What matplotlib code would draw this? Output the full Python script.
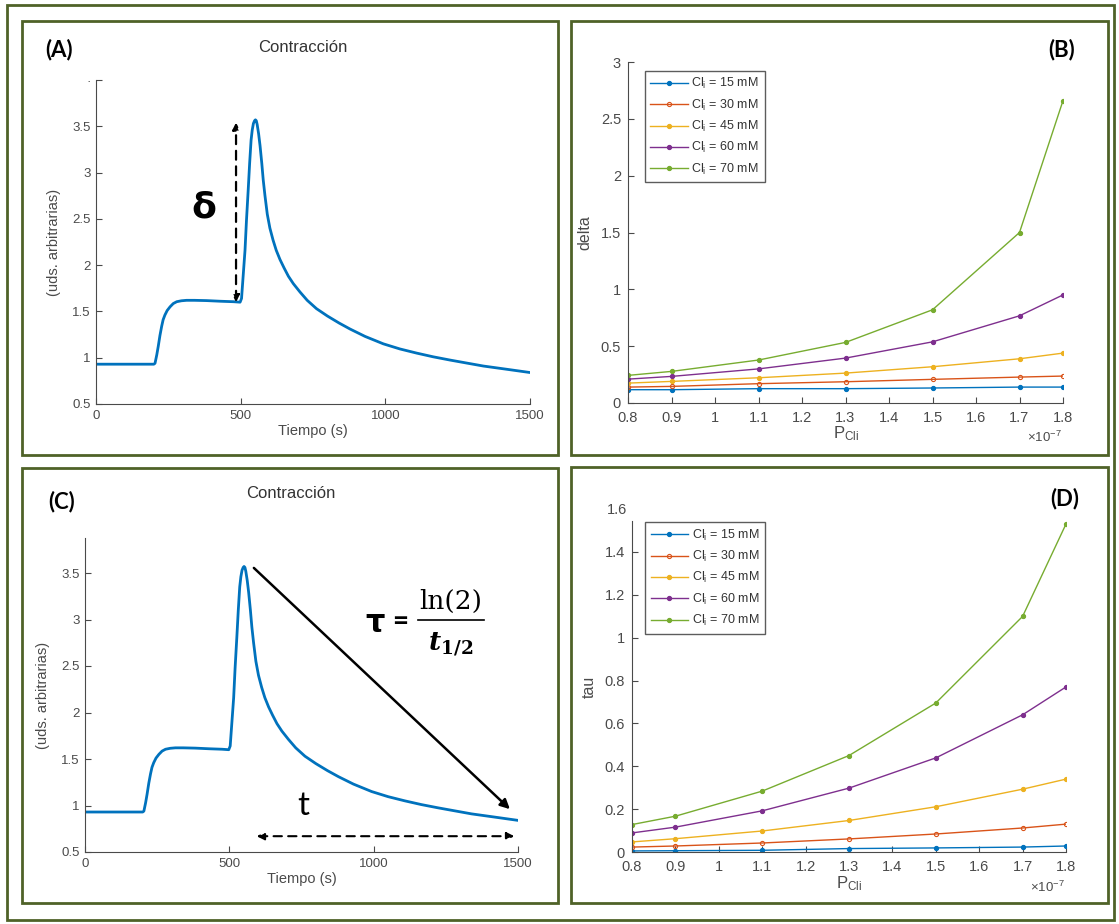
import matplotlib
matplotlib.use("Agg")
import matplotlib.pyplot as plt
from matplotlib.patches import Rectangle
from matplotlib.transforms import Bbox

# ---------------- data ----------------
tiempo = [0, 100, 200, 204, 210, 215, 221, 227, 232, 238, 246, 256, 267, 279, 295, 313, 340, 382,
          430, 475, 498, 503, 509, 515, 520, 526, 531, 536, 540, 544, 548, 551, 554, 557, 562,
          567, 573, 578, 584, 592, 601, 612, 623, 636, 650, 665, 682, 705, 730, 762, 800, 840,
          878, 930, 993, 1050, 1108, 1165, 1223, 1280, 1339, 1420, 1500]
contraccion = [0.93, 0.93, 0.93, 0.94, 1.03, 1.12, 1.24, 1.34, 1.41, 1.46, 1.51, 1.55, 1.585, 1.605,
               1.615, 1.62, 1.62, 1.617, 1.61, 1.605, 1.60, 1.64, 1.90, 2.16, 2.48, 2.81, 3.10, 3.35,
               3.46, 3.53, 3.56, 3.57, 3.56, 3.52, 3.42, 3.29, 3.10, 2.92, 2.75, 2.55, 2.40, 2.27,
               2.16, 2.06, 1.97, 1.88, 1.80, 1.71, 1.62, 1.53, 1.45, 1.375, 1.31, 1.23, 1.15, 1.095,
               1.05, 1.01, 0.975, 0.943, 0.91, 0.875, 0.84]

p_cli = [0.8e-7, 0.9e-7, 1.1e-7, 1.3e-7, 1.5e-7, 1.7e-7, 1.8e-7]
labels = ['Cl$_{\\mathrm{i}}$ = 15 mM', 'Cl$_{\\mathrm{i}}$ = 30 mM', 'Cl$_{\\mathrm{i}}$ = 45 mM',
          'Cl$_{\\mathrm{i}}$ = 60 mM', 'Cl$_{\\mathrm{i}}$ = 70 mM']

delta_15 = [0.117, 0.117, 0.126, 0.126, 0.132, 0.140, 0.140]
delta_30 = [0.140, 0.146, 0.170, 0.187, 0.208, 0.228, 0.237]
delta_45 = [0.175, 0.190, 0.222, 0.263, 0.319, 0.389, 0.439]
delta_60 = [0.210, 0.234, 0.300, 0.395, 0.538, 0.767, 0.951]
delta_70 = [0.243, 0.278, 0.378, 0.533, 0.820, 1.500, 2.660]

tau_15 = [0.005, 0.006, 0.008, 0.016, 0.019, 0.023, 0.028]
tau_30 = [0.023, 0.028, 0.042, 0.061, 0.084, 0.112, 0.130]
tau_45 = [0.047, 0.062, 0.098, 0.147, 0.211, 0.293, 0.340]
tau_60 = [0.089, 0.116, 0.192, 0.298, 0.439, 0.640, 0.770]
tau_70 = [0.128, 0.167, 0.284, 0.450, 0.695, 1.099, 1.530]

# ---------------- style ----------------
W, H = 1119, 924
plt.rcParams['font.family'] = ['Liberation Sans', 'DejaVu Sans']
plt.rcParams['mathtext.fontset'] = 'custom'
plt.rcParams['mathtext.rm'] = 'Liberation Sans'
plt.rcParams['mathtext.it'] = 'Liberation Sans:italic'
plt.rcParams['mathtext.bf'] = 'Liberation Sans:bold'
GRAY = '#4a4a4a'
BORDER = '#4f6228'
LINE_BLUE = '#0072BD'
COLORS = ['#0072BD', '#D95319', '#EDB120', '#7E2F8E', '#77AC30']

fig = plt.figure(figsize=(W / 100, H / 100), dpi=100)
fig.patch.set_facecolor('white')


def fx(x):
    return x / W


def fy(y):
    return 1 - y / H


def add_ax(x0, x1, ytop, ybot):
    return fig.add_axes([fx(x0), fy(ybot), fx(x1) - fx(x0), fy(ytop) - fy(ybot)])


def box(x0, y0, x1, y1, lw=2.0):
    fig.patches.append(Rectangle((fx(x0), fy(y1)), fx(x1) - fx(x0), fy(y0) - fy(y1),
                                 transform=fig.transFigure, fill=False,
                                 edgecolor=BORDER, linewidth=lw, zorder=0))


# outer border and panel frames
box(7, 5, 1114, 920)
box(22, 21, 558, 455)
box(571, 21, 1108, 455)
box(22, 468, 558, 903)
box(571, 467, 1108, 903)


def style_ax(ax, size=9.5):
    for s in ['top', 'right']:
        ax.spines[s].set_visible(False)
    for s in ['left', 'bottom']:
        ax.spines[s].set_color(GRAY)
        ax.spines[s].set_linewidth(0.8)
    ax.tick_params(direction='in', length=4, width=0.8, colors=GRAY,
                   labelsize=size, labelcolor=GRAY, pad=4)
    ax.patch.set_alpha(0)


def clipped_label(text, x, y, clip_ytop, size=9.5):
    t = fig.text(fx(x), fy(y), text, ha='right', va='center', fontsize=size, color=GRAY)
    t.set_clip_box(Bbox.from_extents(0, 0, W, fy(clip_ytop) * H))
    t.set_clip_on(True)


def panel_tag(x, y, s):
    fig.text(fx(x), fy(y), s, ha='center', va='center', fontsize=16, fontweight='bold',
             family='Lato', color='black')


# ---------------- panel A ----------------
axA = add_ax(96, 530, 80, 404)
style_ax(axA)
axA.plot(tiempo, contraccion, color=LINE_BLUE, lw=2.0)
axA.set_xlim(0, 1500)
axA.set_ylim(0.5, 4)
axA.set_xticks([0, 500, 1000, 1500])
axA.set_yticks([0.5, 1, 1.5, 2, 2.5, 3, 3.5, 4])
axA.set_yticklabels(['0.5', '1', '1.5', '2', '2.5', '3', '3.5', ''])
axA.set_xlabel('Tiempo (s)', fontsize=10.5, color=GRAY, labelpad=2)
axA.set_ylabel('(uds. arbitrarias)', fontsize=10.5, color=GRAY, labelpad=8)
clipped_label('4', 91, 79, 81)
fig.text(fx(303), fy(47), 'Contracción', ha='center', va='center', fontsize=12, color='#333333')
panel_tag(59, 50, '(A)')
axA.annotate('', xy=(484, 3.57), xytext=(484, 1.57),
             arrowprops=dict(arrowstyle='<|-|>', linestyle=(0, (4, 3)), color='black',
                             lw=1.6, mutation_scale=10))
axA.text(373, 2.62, 'δ', fontsize=26, fontweight='bold', ha='center', va='center',
         family='DejaVu Sans', color='black')

# ---------------- panel C ----------------
axC = add_ax(85, 518, 538, 852)
style_ax(axC)
axC.plot(tiempo, contraccion, color=LINE_BLUE, lw=2.0)
axC.set_xlim(0, 1500)
axC.set_ylim(0.5, 0.5 + (852 - 538) / 93)
axC.set_xticks([0, 500, 1000, 1500])
axC.set_yticks([0.5, 1, 1.5, 2, 2.5, 3, 3.5])
axC.set_yticklabels(['0.5', '1', '1.5', '2', '2.5', '3', '3.5'])
axC.set_xlabel('Tiempo (s)', fontsize=10.5, color=GRAY, labelpad=2)
axC.set_ylabel('(uds. arbitrarias)', fontsize=10.5, color=GRAY, labelpad=8)
clipped_label('4', 80, 527, 530)
fig.text(fx(291), fy(493), 'Contracción', ha='center', va='center', fontsize=12, color='#333333')
panel_tag(62, 502, '(C)')
axC.annotate('', xy=(1479, 0.94), xytext=(578, 3.575),
             arrowprops=dict(arrowstyle='-|>', color='black', lw=1.8, mutation_scale=14))
axC.annotate('', xy=(1497, 0.67), xytext=(585, 0.67),
             arrowprops=dict(arrowstyle='<|-|>', linestyle=(0, (4, 3)), color='black',
                             lw=1.5, mutation_scale=11))
axC.text(755, 0.99, 't', fontsize=24, ha='center', va='center', family='Lato', color='black')
fig.text(fx(375), fy(623), 'τ', fontsize=22, fontweight='bold', ha='center', va='center',
         family='DejaVu Sans', color='black')
fig.text(fx(400), fy(622), '=', fontsize=20, fontweight='bold', ha='center', va='center',
         family='Lato', color='black')
fig.text(fx(451), fy(601), 'ln(2)', fontsize=19, ha='center', va='center',
         family='DejaVu Serif', color='black')
fig.lines.append(plt.Line2D([fx(418), fx(484)], [fy(620), fy(620)], transform=fig.transFigure,
                            color='black', lw=1.2))
fig.text(fx(451), fy(644), r'$\boldsymbol{t}_{\mathbf{1/2}}$', fontsize=19, ha='center', va='center',
         math_fontfamily='dejavuserif', color='black')


# ---------------- panels B and D ----------------
def pcli_panel(ax, series, ylim, yticks, ylabel):
    style_ax(ax, size=10.5)
    ax.tick_params(axis='x', pad=6)
    ax.tick_params(axis='y', pad=5)
    for i, (vals, c) in enumerate(zip(series, COLORS)):
        face = 'none' if i == 1 else c
        ax.plot(p_cli, vals, color=c, lw=1.0, marker='o', markersize=3,
                markerfacecolor=face, markeredgecolor=c, markeredgewidth=0.8, label=labels[i])
    ax.set_xlim(0.8e-7, 1.8e-7)
    ax.set_ylim(*ylim)
    ax.set_xticks([0.8e-7, 0.9e-7, 1.0e-7, 1.1e-7, 1.2e-7, 1.3e-7, 1.4e-7, 1.5e-7, 1.6e-7, 1.7e-7, 1.8e-7])
    ax.set_xticklabels(['0.8', '0.9', '1', '1.1', '1.2', '1.3', '1.4', '1.5', '1.6', '1.7', '1.8'])
    ax.set_yticks(yticks)
    ax.set_yticklabels([('%g' % v) for v in yticks])
    ax.set_ylabel(ylabel, fontsize=11.5, color=GRAY, labelpad=6)


axB = add_ax(628, 1063, 62, 403)
pcli_panel(axB, [delta_15, delta_30, delta_45, delta_60, delta_70], (0, 3),
           [0, 0.5, 1, 1.5, 2, 2.5, 3], 'delta')
axD = add_ax(632, 1066, 521, 852)
pcli_panel(axD, [tau_15, tau_30, tau_45, tau_60, tau_70], (0, 1.6 * (852 - 521) / (852 - 509)),
           [0, 0.2, 0.4, 0.6, 0.8, 1.0, 1.2, 1.4], 'tau')
fig.text(fx(627), fy(510), '1.6', ha='right', va='center', fontsize=10.5, color=GRAY)

for ax, lx, ly in [(axB, 644.6, 70.7), (axD, 645, 522)]:
    leg = ax.legend(loc='upper left', bbox_to_anchor=(fx(lx), fy(ly)),
                    bbox_transform=fig.transFigure, fontsize=9, frameon=True, fancybox=False,
                    borderaxespad=0, handlelength=3.0, handletextpad=0.3, labelspacing=0.5,
                    borderpad=0.45, edgecolor='#333333')
    leg.get_frame().set_linewidth(1.0)
    for txt in leg.get_texts():
        txt.set_color('#333333')

fig.text(fx(846), fy(434), r'P$_{\mathrm{Cli}}$', ha='center', va='center', fontsize=12, color=GRAY)
fig.text(fx(849), fy(884), r'P$_{\mathrm{Cli}}$', ha='center', va='center', fontsize=12, color=GRAY)
fig.text(fx(1044), fy(437), r'$\times 10^{-7}$', ha='center', va='center', fontsize=9.5, color=GRAY)
fig.text(fx(1047), fy(887), r'$\times 10^{-7}$', ha='center', va='center', fontsize=9.5, color=GRAY)
panel_tag(1062, 50, '(B)')
panel_tag(1065, 499, '(D)')

fig.savefig('out.png', dpi=100, facecolor='white')
